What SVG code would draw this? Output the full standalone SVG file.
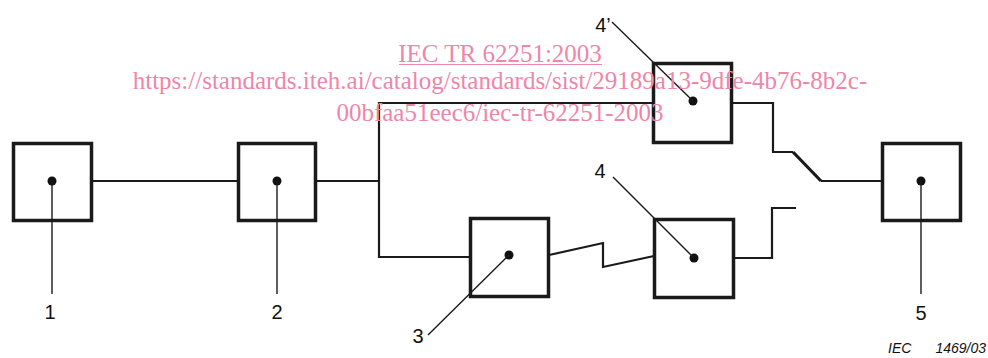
<svg xmlns="http://www.w3.org/2000/svg" width="988" height="358" viewBox="0 0 988 358">
<style>
.box{fill:#fff;stroke:#1a1a1a;stroke-width:3.5}
.dot{fill:#111}
.conn{fill:none;stroke:#1a1a1a;stroke-width:2.2;stroke-linejoin:miter}
.sw{fill:none;stroke:#1a1a1a;stroke-width:3.2}
.lead{fill:none;stroke:#1a1a1a;stroke-width:1.4}
.lbl{font-family:"Liberation Sans",Arial,sans-serif;font-size:20px;fill:#111;text-anchor:middle}
.ref{font-family:"Liberation Sans",Arial,sans-serif;font-size:14px;font-style:italic;fill:#111}
.wm{font-family:"Liberation Serif","Times New Roman",serif;font-size:25px;fill:#ef86a8;text-anchor:middle}
</style>
<rect width="988" height="358" fill="#fff"/>
<g id="connectors">
<line class="conn" x1="92" y1="181" x2="238" y2="181"/>
<line class="conn" x1="316" y1="181" x2="379" y2="181"/>
<path class="conn" d="M652,103 H379 V257 H470"/>
<path class="conn" d="M549,255 L603,243 V267 L654,256"/>
<path class="conn" d="M734,258 H772 V208 H796"/>
<path class="conn" d="M732,103 H773 V152 H793"/>
<path class="sw" d="M793,152 L821,181"/>
<line class="conn" x1="821" y1="181" x2="882" y2="181"/>
</g>
<g id="node1">
<rect class="box" x="13.5" y="143.5" width="78" height="77"/>
<circle class="dot" cx="52" cy="181" r="4.5"/>
<line class="lead" x1="52" y1="181" x2="52" y2="294"/>
<text class="lbl" x="50" y="319">1</text>
</g>
<g id="node2">
<rect class="box" x="238.5" y="143.5" width="77" height="77"/>
<circle class="dot" cx="277" cy="181" r="4.5"/>
<line class="lead" x1="277" y1="181" x2="277" y2="294"/>
<text class="lbl" x="277" y="319">2</text>
</g>
<g id="node3">
<rect class="box" x="470.5" y="218.5" width="78" height="78"/>
<circle class="dot" cx="509" cy="255" r="4.5"/>
<line class="lead" x1="509" y1="255" x2="428" y2="335"/>
<text class="lbl" x="418" y="343">3</text>
</g>
<g id="node4">
<rect class="box" x="654.5" y="219.5" width="79" height="78"/>
<circle class="dot" cx="694" cy="258" r="4.5"/>
<line class="lead" x1="694" y1="258" x2="613" y2="177"/>
<text class="lbl" x="600" y="178">4</text>
</g>
<g id="node4p">
<rect class="box" x="653.5" y="63.5" width="78" height="79"/>
<circle class="dot" cx="693" cy="101" r="4.5"/>
<line class="lead" x1="693" y1="101" x2="612" y2="22"/>
<text class="lbl" x="603" y="32">4’</text>
</g>
<g id="node5">
<rect class="box" x="882.5" y="143.5" width="78" height="77"/>
<circle class="dot" cx="921" cy="181" r="4.5"/>
<line class="lead" x1="921" y1="181" x2="921" y2="294"/>
<text class="lbl" x="921" y="320">5</text>
</g>
<g id="ref">
<text class="ref" x="888" y="353">IEC</text>
<text class="ref" x="986" y="353" text-anchor="end">1469/03</text>
</g>
<g id="watermark">
<text class="wm" x="500" y="62">IEC TR 62251:2003</text>
<line x1="399" y1="64.5" x2="602" y2="64.5" stroke="#ef86a8" stroke-width="1.2"/>
<text class="wm" x="500" y="89">https://standards.iteh.ai/catalog/standards/sist/29189a13-9dfe-4b76-8b2c-</text>
<text class="wm" x="500" y="121">00bfaa51eec6/iec-tr-62251-2003</text>
</g>
</svg>
